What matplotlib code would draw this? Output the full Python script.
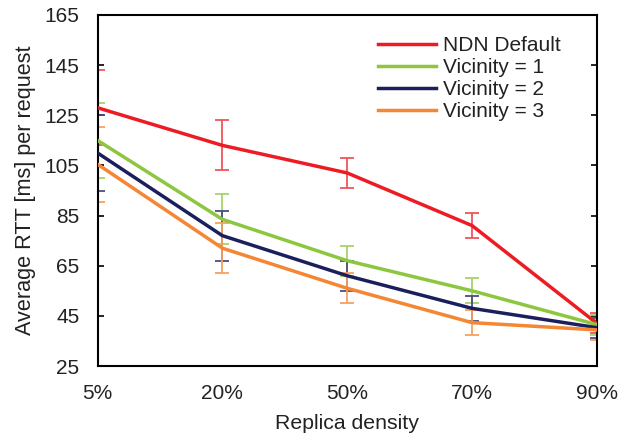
import matplotlib
matplotlib.use("Agg")
import matplotlib.pyplot as plt

plt.rcParams['font.family'] = ['Liberation Sans', 'DejaVu Sans']

categories = ["5%", "20%", "50%", "70%", "90%"]
series_names = ["NDN Default", "Vicinity = 1", "Vicinity = 2", "Vicinity = 3"]
ndn_default = [128, 113, 102, 81, 42]
vicinity1 = [115, 83.5, 67, 55, 41.5]
vicinity2 = [110, 77, 61, 48, 40.3]
vicinity3 = [105.5, 72, 56, 42.3, 39.4]
ndn_err = [15, 10, 6, 5, 4]
v1_err = [15, 10, 6, 5, 4]
v2_err = [15, 10, 6, 5, 4]
v3_err = [15, 10, 6, 5, 4]
yticks = [25, 45, 65, 85, 105, 125, 145, 165]

colors = ["#ED1C24", "#8DC63F", "#1B1F5C", "#F58634"]
err_colors = ["#F0545A", "#A6D46A", "#4A4E7E", "#F7A060"]

fig = plt.figure(figsize=(6.34, 4.41), dpi=100)
ax = fig.add_axes([0.1538, 0.170, 0.7878, 0.796])

x = list(range(len(categories)))
data = [ndn_default, vicinity1, vicinity2, vicinity3]
errs = [ndn_err, v1_err, v2_err, v3_err]

for vals, e, c, ec in zip(data, errs, colors, err_colors):
    ax.errorbar(x, vals, yerr=e, fmt='none', ecolor=ec, elinewidth=1.3,
                capsize=4.7, capthick=1.3, zorder=2)
for vals, c, name in zip(data, colors, series_names):
    ax.plot(x, vals, color=c, linewidth=2.5, label=name, zorder=3)

ax.set_xlim(0, 4)
ax.set_ylim(25, 165)
ax.set_xticks(x)
ax.set_xticklabels(categories)
ax.set_yticks(yticks)
ax.tick_params(axis='y', direction='in', length=4, width=1.2, right=True,
               labelsize=15, pad=13, colors='black', labelcolor='#222222')
ax.tick_params(axis='x', length=0, labelsize=15, pad=13, labelcolor='#222222')
for s in ax.spines.values():
    s.set_linewidth(1.5)
    s.set_color('black')

ax.set_xlabel("Replica density", fontsize=15.3, color='#222222', labelpad=8)
ax.set_ylabel("Average RTT [ms] per request", fontsize=15.6, color='#222222', labelpad=6)

leg = ax.legend(loc='upper left', bbox_to_anchor=(378 / 634, 1 - 36 / 441),
                bbox_transform=fig.transFigure, frameon=False, borderpad=0,
                fontsize=15, handlelength=2.8, handletextpad=0.3,
                labelspacing=0.15, borderaxespad=0)
for t in leg.get_texts():
    t.set_color('#222222')

fig.savefig("out.png", dpi=100)
